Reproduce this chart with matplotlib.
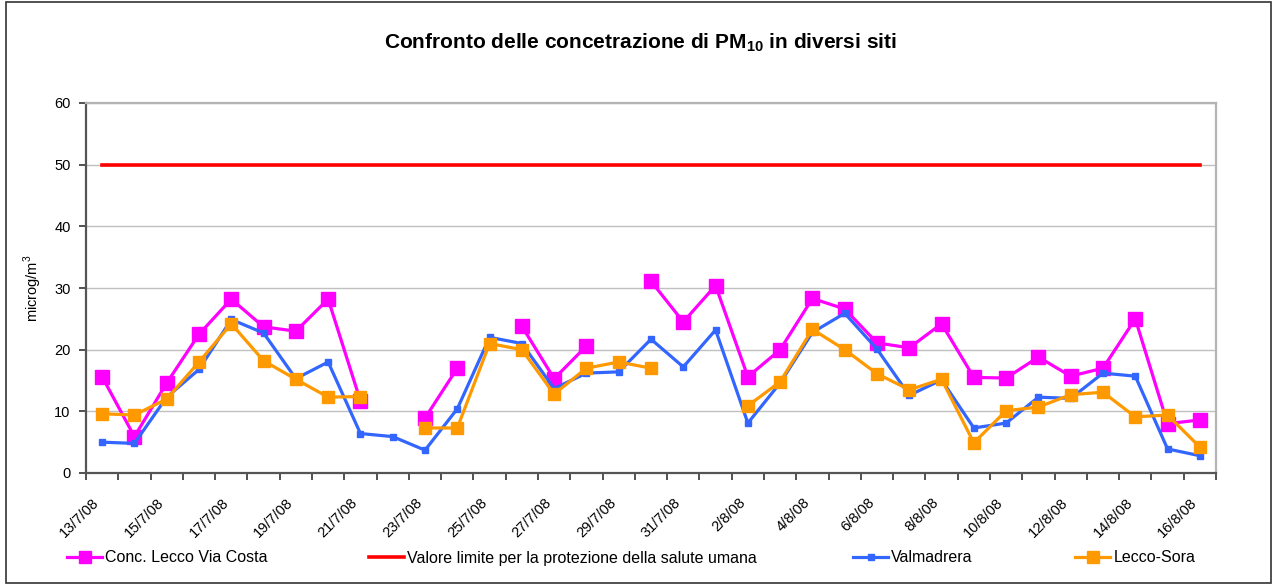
import matplotlib.pyplot as plt
import numpy as np
import pandas as pd
from matplotlib.patches import Rectangle
from matplotlib.lines import Line2D

plt.rcParams['font.family'] = ['Liberation Sans', 'DejaVu Sans']
plt.rcParams['mathtext.fontset'] = 'custom'
plt.rcParams['mathtext.rm'] = 'Liberation Sans'
plt.rcParams['mathtext.bf'] = 'Liberation Sans:bold'

nan = np.nan
dates = pd.date_range('2008-07-13', '2008-08-16', freq='D')
labels = [f'{d.day}/{d.month}/08' for d in dates]

lecco_costa = [15.6, 5.9, 14.6, 22.5, 28.2, 23.7, 23.0, 28.2, 11.7, nan,
               8.9, 17.0, nan, 23.8, 15.3, 20.6, nan, 31.1, 24.5, 30.4,
               15.6, 20.0, 28.3, 26.6, 21.1, 20.3, 24.2, 15.5, 15.4, 18.8,
               15.7, 17.0, 25.0, 8.0, 8.6]
valmadrera = [5.0, 4.8, 12.3, 16.8, 24.9, 22.7, 15.3, 18.0, 6.4, 5.9,
              3.7, 10.4, 22.0, 21.0, 13.7, 16.2, 16.4, 21.7, 17.2, 23.2,
              8.1, 14.6, 22.8, 25.9, 20.1, 12.6, 15.1, 7.3, 8.1, 12.3,
              12.1, 16.2, 15.7, 3.9, 2.8]
lecco_sora = [9.6, 9.4, 12.0, 18.0, 24.2, 18.2, 15.2, 12.3, 12.4, nan,
              7.3, 7.3, 21.0, 20.0, 12.8, 17.0, 18.0, 17.0, nan, nan,
              10.9, 14.8, 23.3, 20.0, 16.1, 13.5, 15.2, 4.9, 10.1, 10.7,
              12.7, 13.1, 9.1, 9.4, 4.2]
limite = [50] * len(labels)

names = ['Conc. Lecco Via Costa', 'Valore limite per la protezione della salute umana',
         'Valmadrera', 'Lecco-Sora']

W, H = 1276, 585
fig = plt.figure(figsize=(W / 100, H / 100), dpi=100)
ax = fig.add_axes([86 / W, 1 - 473 / H, (1216 - 86) / W, (473 - 103) / H])

x = np.arange(len(labels))
c_mag, c_red, c_blue, c_orange = '#FF00FF', '#FF0000', '#3366FF', '#FF9900'
ax.plot(x, lecco_costa, color=c_mag, lw=2.3, marker='s', ms=9.5, zorder=3)
ax.plot(x, limite, color=c_red, lw=2.6, zorder=4)
ax.plot(x, valmadrera, color=c_blue, lw=2.3, marker='s', ms=4.5, zorder=5)
ax.plot(x, lecco_sora, color=c_orange, lw=2.3, marker='s', ms=8, zorder=6)

ax.set_xlim(-0.5, len(labels) - 0.5)
ax.set_ylim(0, 60)
ax.set_yticks(range(0, 61, 10))
ax.yaxis.grid(True, color='#c0c0c0', lw=1)
ax.set_axisbelow(True)
ax.tick_params(axis='y', direction='out', length=5, width=1.2, color='#333333',
               labelsize=10.5, pad=6)

ax.set_xticks(x[::2])
ax.set_xticklabels(labels[::2], rotation=45, ha='right', fontsize=10.5)
ax.set_xticks(np.arange(len(labels) + 1) - 0.5, minor=True)
ax.tick_params(axis='x', which='major', length=0, pad=16)
ax.tick_params(axis='x', which='minor', direction='out', length=5, width=1.2,
               color='#333333')

for s in ['left', 'bottom']:
    ax.spines[s].set_color('#555555')
    ax.spines[s].set_linewidth(1.6)
for s in ['top', 'right']:
    ax.spines[s].set_color('#b4b4b4')
    ax.spines[s].set_linewidth(1.6)

fig.text(640 / W, 1 - 43 / H, r'Confronto delle concetrazione di PM$_\mathbf{10}$ in diversi siti',
         ha='center', va='center', fontsize=15, fontweight='bold')
fig.text(33 / W, 1 - 288 / H, 'microg/m$^3$', rotation=90, ha='center', va='center',
         fontsize=10.5)

# legend entries placed one by one, as in the original
handles = [
    Line2D([], [], color=c_mag, lw=2.3, marker='s', ms=9),
    Line2D([], [], color=c_red, lw=2.6),
    Line2D([], [], color=c_blue, lw=2.3, marker='s', ms=4.5),
    Line2D([], [], color=c_orange, lw=2.3, marker='s', ms=8),
]
xpos = [67, 369, 853, 1075]
for h, n, xp in zip(handles, names, xpos):
    fig.legend([h], [n], loc='center left', bbox_to_anchor=(xp / W, 1 - 558 / H),
               frameon=False, fontsize=11.5, handlelength=2.2, handletextpad=0.2,
               borderaxespad=0, borderpad=0)

fig.patches.append(Rectangle((6 / W, 2 / H), (1271 - 6) / W, (583 - 2) / H,
                             transform=fig.transFigure, fill=False,
                             edgecolor='#333333', lw=1.2))

fig.savefig('out.png', dpi=100)
